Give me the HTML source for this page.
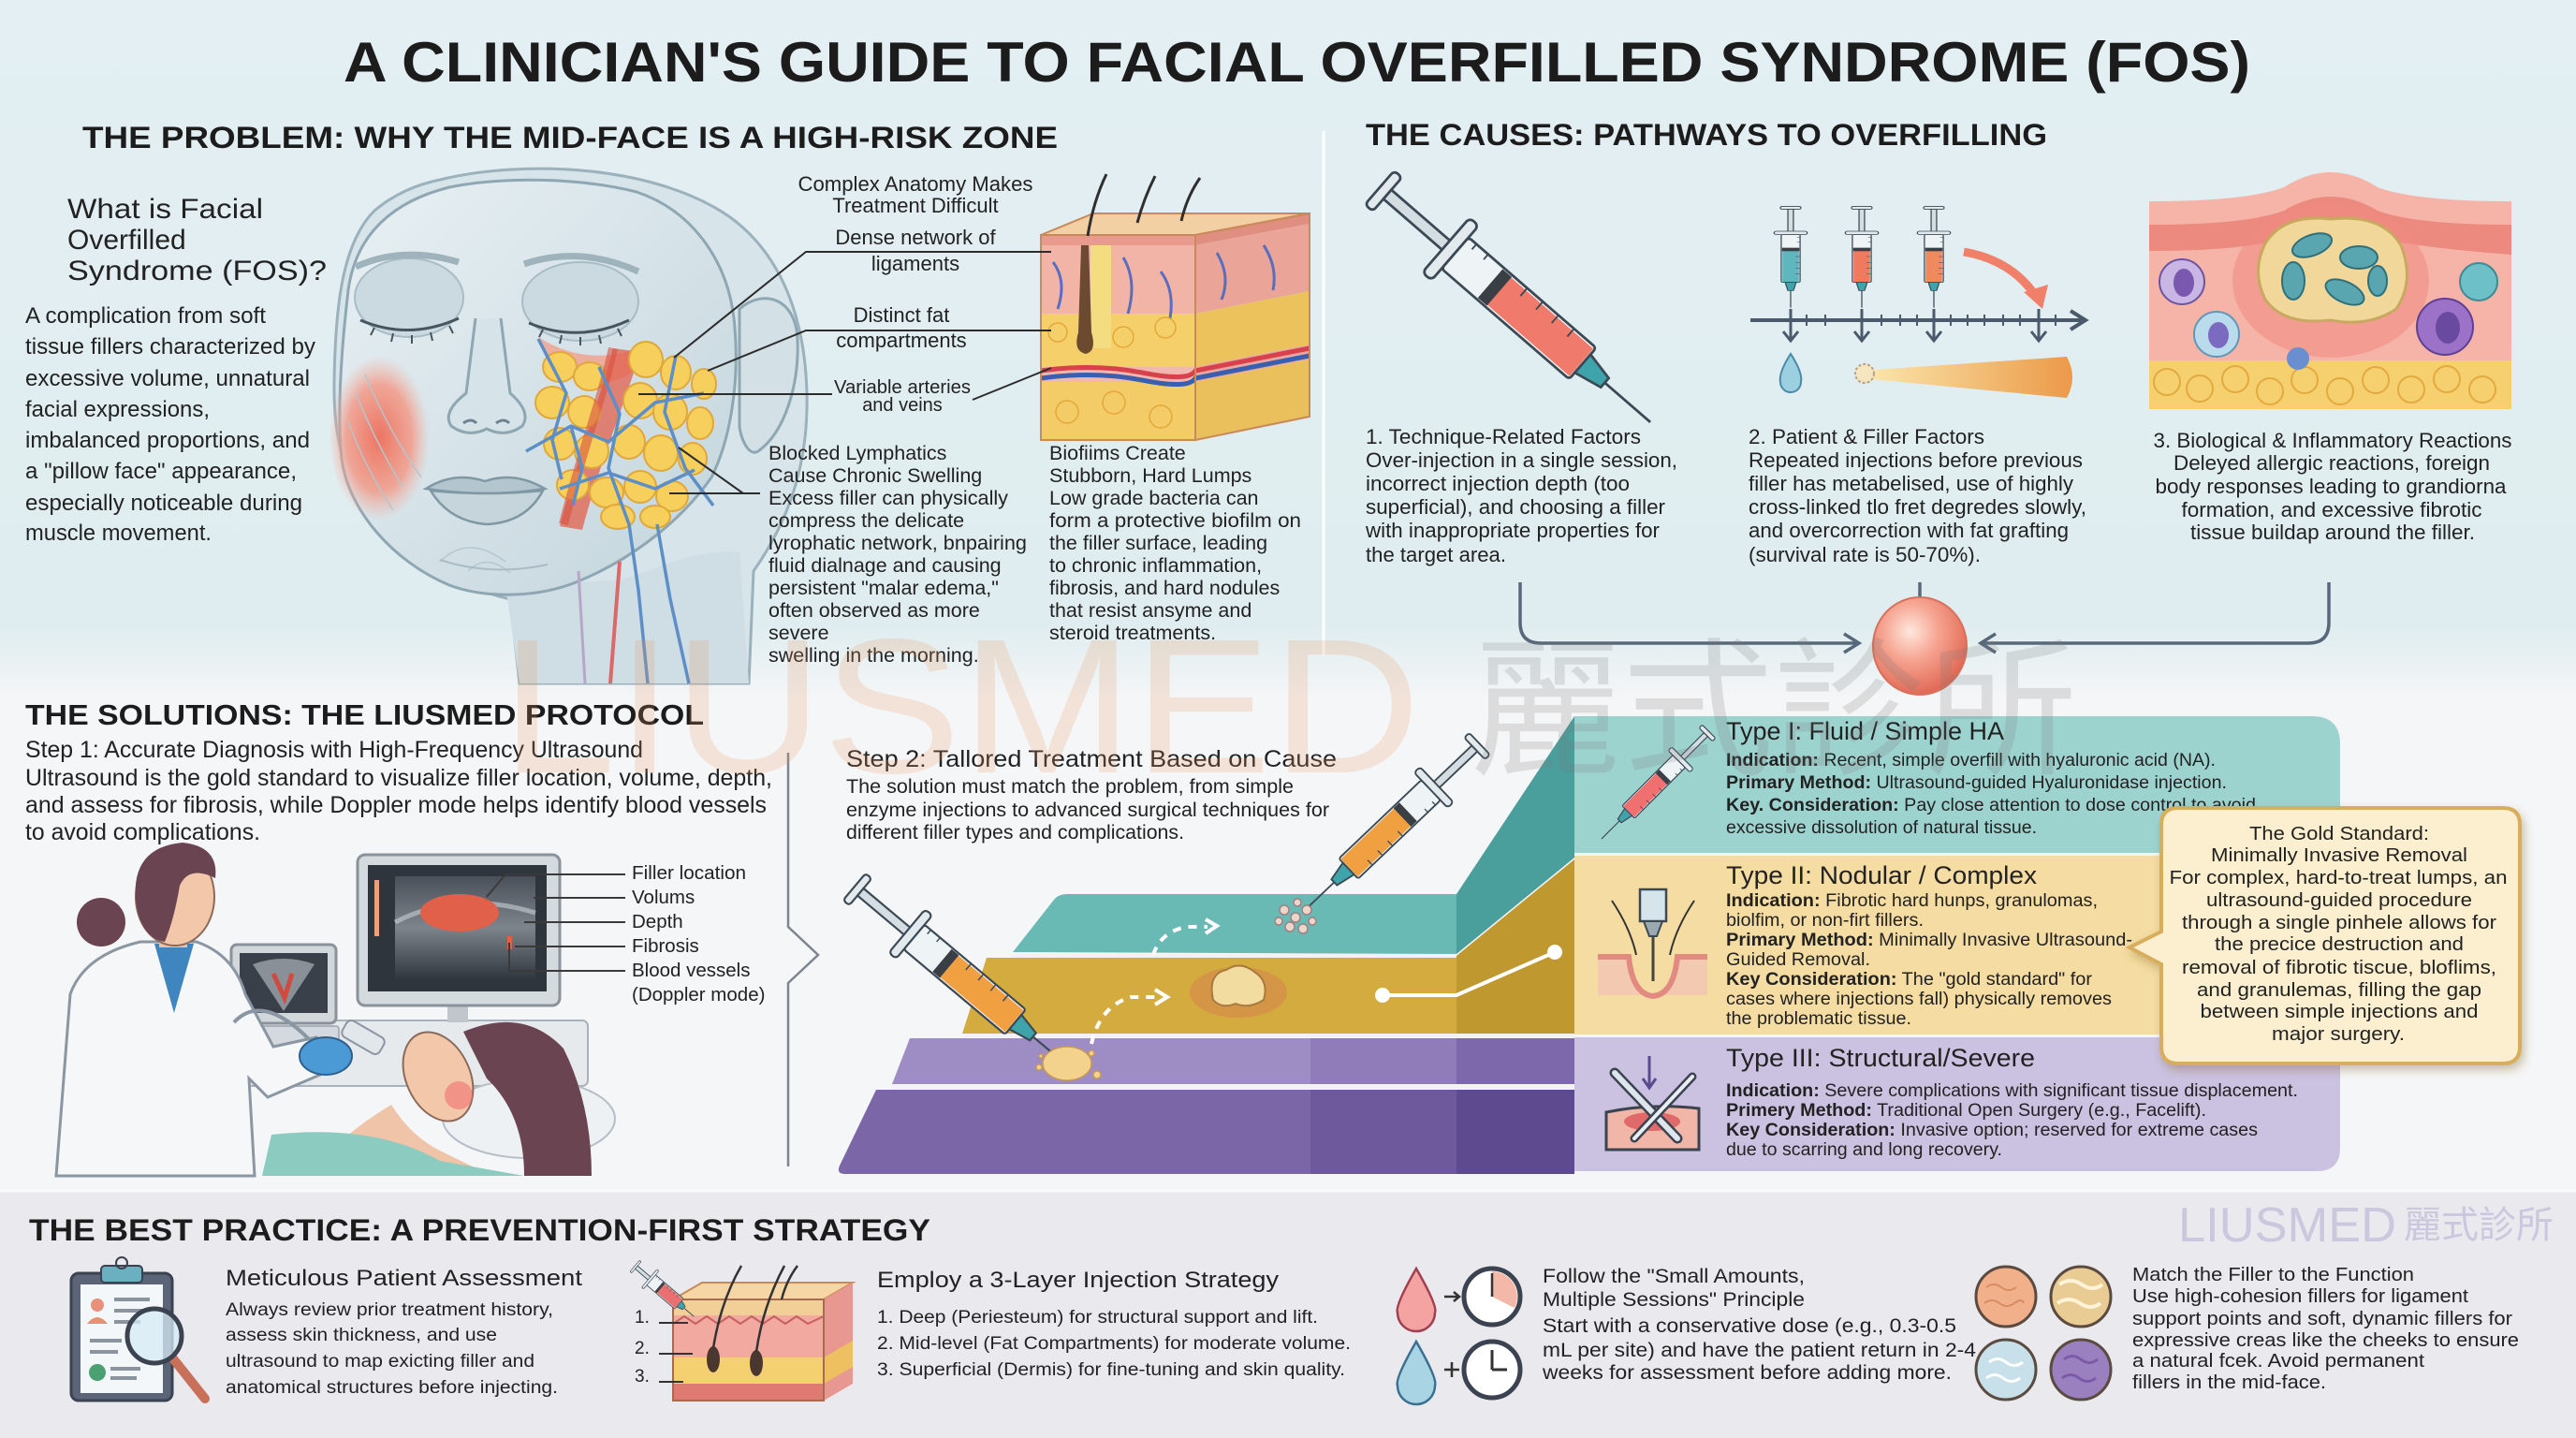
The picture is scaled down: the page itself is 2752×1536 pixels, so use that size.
<!DOCTYPE html>
<html><head><meta charset="utf-8">
<style>
html,body{margin:0;padding:0;background:#f5f6f7;}
svg{display:block;}
text{font-family:"Liberation Sans","Noto Sans CJK TC",sans-serif;fill:#222;}
.h{font-weight:bold;fill:#1c1c1c;}
</style></head><body>
<svg width="2752" height="1536" viewBox="0 0 2752 1536" xmlns="http://www.w3.org/2000/svg">
<defs>
<linearGradient id="gTop" x1="0" y1="0" x2="0" y2="1"><stop offset="0" stop-color="#e3eff2"/><stop offset="0.9" stop-color="#e0edf0"/><stop offset="1" stop-color="#f4f6f7"/></linearGradient>
<linearGradient id="gFace" x1="0" y1="0" x2="1" y2="1"><stop offset="0" stop-color="#e9f1f4"/><stop offset="1" stop-color="#c2d4dc"/></linearGradient>
<radialGradient id="gCheek"><stop offset="0" stop-color="#ee7462"/><stop offset="0.65" stop-color="#f29a88" stop-opacity=".85"/><stop offset="1" stop-color="#f4b0a0" stop-opacity="0"/></radialGradient>
<radialGradient id="gBall" cx="0.4" cy="0.35" r="0.65"><stop offset="0" stop-color="#fee8de"/><stop offset="0.45" stop-color="#f6a592"/><stop offset="1" stop-color="#e26a56"/></radialGradient>
<linearGradient id="gCone" x1="0" x2="1"><stop offset="0" stop-color="#fbe9b0"/><stop offset="1" stop-color="#eb9a48"/></linearGradient>
<linearGradient id="gScr" x1="0" y1="0" x2="0" y2="1"><stop offset="0" stop-color="#4a5059"/><stop offset="0.5" stop-color="#7d848c"/><stop offset="1" stop-color="#30363e"/></linearGradient>
<filter id="sh" x="-10%" y="-10%" width="125%" height="125%"><feDropShadow dx="3" dy="5" stdDeviation="5" flood-color="#7a5a20" flood-opacity=".35"/></filter>
<g id="syr">
<rect x="-6" y="-26" width="12" height="52" rx="5" fill="#e3eaee" stroke="#3b4954" stroke-width="3"/>
<rect x="6" y="-7" width="92" height="14" fill="#d3dde2" stroke="#3b4954" stroke-width="3"/>
<rect x="96" y="-42" width="14" height="84" rx="6" fill="#e3eaee" stroke="#3b4954" stroke-width="3"/>
<rect x="110" y="-24" width="196" height="48" rx="4" fill="#eef4f6" stroke="#3b4954" stroke-width="3"/>
<rect x="176" y="-21" width="128" height="42" fill="currentColor"/>
<rect x="164" y="-22" width="14" height="44" fill="#3a3f45"/>
<path d="M200,-24v12M224,-24v12M248,-24v12M272,-24v12M140,-24v8M122,-24v8" stroke="#3b4954" stroke-width="2"/>
<path d="M306,-14L340,-7V7L306,14Z" fill="#3fa3ab" stroke="#3b4954" stroke-width="3"/>
<path d="M340,0H410" stroke="#3b4954" stroke-width="3"/>
</g>
<clipPath id="c3"><path d="M2296,215 Q2400,215 2440,200 Q2490,168 2540,200 Q2580,215 2683,215 V437 H2296 Z"/></clipPath>
</defs>

<!-- BACKGROUNDS -->
<rect width="2752" height="1536" fill="#f5f6f7"/>
<rect x="0" y="0" width="2752" height="745" fill="url(#gTop)"/>
<rect x="0" y="1272" width="2752" height="264" fill="#e9e9ee"/>
<line x1="0" y1="1272" x2="2752" y2="1272" stroke="#fafafc" stroke-width="3"/>
<line x1="1414" y1="140" x2="1414" y2="700" stroke="#ffffff" stroke-width="3"/>

<!-- TITLE -->
<text class="h" x="367" y="87" font-size="60" textLength="2037" lengthAdjust="spacingAndGlyphs">A CLINICIAN'S GUIDE TO FACIAL OVERFILLED SYNDROME (FOS)</text>
<text class="h" x="88" y="158" font-size="32" textLength="1042" lengthAdjust="spacingAndGlyphs">THE PROBLEM: WHY THE MID-FACE IS A HIGH-RISK ZONE</text>
<text class="h" x="1459" y="155" font-size="32" textLength="728" lengthAdjust="spacingAndGlyphs">THE CAUSES: PATHWAYS TO OVERFILLING</text>

<!-- PROBLEM LEFT TEXT -->
<text x="72" y="233" font-size="30" textLength="209" lengthAdjust="spacingAndGlyphs">What is Facial</text>
<text x="72" y="266" font-size="30">Overfilled</text>
<text x="72" y="299" font-size="30" textLength="277" lengthAdjust="spacingAndGlyphs">Syndrome (FOS)?</text>
<g font-size="24">
<text x="27" y="345" textLength="257" lengthAdjust="spacingAndGlyphs">A complication from soft</text>
<text x="27" y="378" textLength="310" lengthAdjust="spacingAndGlyphs">tissue fillers characterized by</text>
<text x="27" y="412" textLength="304" lengthAdjust="spacingAndGlyphs">excessive volume, unnatural</text>
<text x="27" y="445" textLength="197" lengthAdjust="spacingAndGlyphs">facial expressions,</text>
<text x="27" y="478" textLength="304" lengthAdjust="spacingAndGlyphs">imbalanced proportions, and</text>
<text x="27" y="511" textLength="290" lengthAdjust="spacingAndGlyphs">a "pillow face" appearance,</text>
<text x="27" y="545" textLength="296" lengthAdjust="spacingAndGlyphs">especially noticeable during</text>
<text x="27" y="577" textLength="199" lengthAdjust="spacingAndGlyphs">muscle movement.</text>
</g>

<!-- FACE -->
<g>
<path d="M470,192 C560,170 700,176 780,232 C835,272 860,340 862,420 C864,500 840,560 805,610 L800,730 L555,730 L545,640 C500,630 440,600 400,560 C370,520 356,470 357,410 C358,330 365,260 400,225 C420,208 445,197 470,192 Z" fill="#d7e4e9" stroke="#9bb1bc" stroke-width="3"/>
<path d="M540,625 L555,730 L800,730 L790,590 C740,585 700,610 660,620 Z" fill="#cfdde4"/>
<path d="M480,200 C420,215 380,250 372,310 C365,370 360,440 365,490 C372,545 420,600 480,625 C520,640 575,638 615,622 C670,600 725,560 760,510 C780,470 790,410 785,350 C780,280 740,225 680,205 C620,190 540,188 480,200 Z" fill="url(#gFace)" stroke="#8ea7b3" stroke-width="3"/>
<path d="M790,330 C815,308 850,318 852,362 C854,412 838,462 810,482 C800,488 792,470 790,456 Z" fill="#d3e1e7" stroke="#8ea7b3" stroke-width="3"/>
<ellipse cx="405" cy="468" rx="54" ry="88" fill="url(#gCheek)"/>
<g stroke="#b4c6ce" stroke-width="1.5" fill="none">
<path d="M380,420 Q400,470 430,520 M390,400 Q415,460 450,510 M372,450 Q390,500 420,545"/>
<path d="M470,600 Q500,570 540,600 M500,610 Q520,590 545,612"/>
</g>
<ellipse cx="437" cy="318" rx="58" ry="42" fill="#cbdae1" stroke="#a8bcc5" stroke-width="2"/>
<ellipse cx="620" cy="322" rx="62" ry="42" fill="#cbdae1" stroke="#a8bcc5" stroke-width="2"/>
<path d="M380,285 Q430,262 490,280" stroke="#9fb3bd" stroke-width="7" fill="none"/>
<path d="M560,282 Q620,262 682,290" stroke="#9fb3bd" stroke-width="7" fill="none"/>
<path d="M575,360 Q630,395 692,368 Q682,412 630,408 Q588,398 575,360 Z" fill="#f0a08c" opacity=".8"/>
<path d="M385,342 Q437,364 490,340" stroke="#46555f" stroke-width="3" fill="none"/>
<path d="M565,345 Q618,367 672,342" stroke="#46555f" stroke-width="3" fill="none"/>
<path d="M400,350l-4,8M420,356l-2,9M440,358v9M460,355l2,9M480,348l4,8M580,352l-4,8M600,358l-2,9M620,360v9M640,358l2,9M660,351l4,8" stroke="#46555f" stroke-width="2"/>
<path d="M508,340 L498,420 Q472,440 482,455 Q500,468 520,458 Q540,468 558,455 Q568,440 545,420 L535,340" stroke="#8ea7b3" stroke-width="3" fill="#d6e3e8"/>
<path d="M495,452 q8,-6 14,0M530,452 q8,-6 14,0" stroke="#6d8490" stroke-width="3" fill="none"/>
<path d="M455,522 Q485,503 518,514 Q550,503 582,522 Q520,532 455,522 Z" fill="#b3c6cf" stroke="#7f98a4" stroke-width="2.5"/>
<path d="M460,524 Q520,530 580,524 Q562,558 520,560 Q480,557 460,524 Z" fill="#c6d5dc" stroke="#7f98a4" stroke-width="2.5"/>
<path d="M470,598 Q525,616 585,603" stroke="#a9bcc5" stroke-width="2" fill="none"/>
<path d="M655,372 C640,430 620,480 598,562 L622,566 C642,490 668,430 684,376 Z" fill="#e2604c" opacity=".75"/>
<g fill="#f6cf5c" stroke="#e0a83a" stroke-width="2">
<ellipse cx="598" cy="392" rx="18" ry="16"/><ellipse cx="630" cy="402" rx="17" ry="15"/><ellipse cx="690" cy="384" rx="18" ry="19"/><ellipse cx="722" cy="398" rx="16" ry="18"/><ellipse cx="752" cy="410" rx="13" ry="16"/>
<ellipse cx="590" cy="430" rx="18" ry="17"/><ellipse cx="624" cy="440" rx="17" ry="17"/><ellipse cx="684" cy="428" rx="18" ry="19"/><ellipse cx="716" cy="440" rx="18" ry="19"/><ellipse cx="748" cy="452" rx="14" ry="17"/>
<ellipse cx="598" cy="474" rx="17" ry="17"/><ellipse cx="632" cy="482" rx="18" ry="18"/><ellipse cx="672" cy="472" rx="17" ry="18"/><ellipse cx="706" cy="484" rx="18" ry="19"/><ellipse cx="740" cy="490" rx="15" ry="17"/>
<ellipse cx="612" cy="518" rx="17" ry="16"/><ellipse cx="648" cy="526" rx="18" ry="16"/><ellipse cx="684" cy="520" rx="17" ry="17"/><ellipse cx="718" cy="530" rx="17" ry="16"/>
<ellipse cx="660" cy="552" rx="18" ry="13"/><ellipse cx="700" cy="552" rx="16" ry="12"/>
</g>
<path d="M655,372 C642,430 622,480 602,560" stroke="#d9503d" stroke-width="10" fill="none" opacity=".6"/>
<g stroke="#5d8fc6" stroke-width="3.5" fill="none" stroke-linejoin="round">
<path d="M575,362 L605,420 L590,470 L600,512"/>
<path d="M562,482 L610,455 L650,472 L700,430 L752,420"/>
<path d="M598,522 L650,505 L700,522 L742,502"/>
<path d="M640,392 L662,442 L650,500 L672,560 L682,630 L692,730"/>
<path d="M722,380 L710,440 L732,500 L762,540"/>
<path d="M702,560 L716,640 L736,730"/>
<path d="M610,455 L622,500 L612,540"/>
</g>
<path d="M662,600 L652,730" stroke="#d86a6a" stroke-width="4" fill="none"/>
<path d="M618,610 L625,730" stroke="#b8a6c8" stroke-width="3" fill="none"/>
</g>

<!-- SKIN BLOCK (problem) -->
<g>
<polygon points="1112,251 1277,251 1399,228 1168,228" fill="#f3cfa4" stroke="#c98a5a" stroke-width="2"/>
<rect x="1112" y="251" width="165" height="11" fill="#e89a8c"/>
<rect x="1112" y="262" width="165" height="73" fill="#f3b4a8"/>
<rect x="1112" y="335" width="165" height="57" fill="#f5cf6a"/>
<rect x="1112" y="392" width="165" height="16" fill="#f1b8b0"/>
<rect x="1112" y="408" width="165" height="62" fill="#f3cc68"/>
<polygon points="1277,251 1399,228 1399,239 1277,262" fill="#df8e80"/>
<polygon points="1277,262 1399,239 1399,311 1277,335" fill="#eaa598"/>
<polygon points="1277,335 1399,311 1399,368 1277,392" fill="#ecc25c"/>
<polygon points="1277,392 1399,368 1399,384 1277,408" fill="#e7a8a0"/>
<polygon points="1277,408 1399,384 1399,445 1277,470" fill="#e9c05c"/>
<path d="M1112,396 Q1170,388 1220,398 T1277,396 L1399,372" stroke="#d8404c" stroke-width="5" fill="none"/>
<path d="M1112,404 Q1170,396 1220,406 T1277,404 L1399,380" stroke="#3a5fb0" stroke-width="5" fill="none"/>
<path d="M1125,280 Q1140,300 1130,330 M1200,275 Q1215,300 1205,335 M1240,290 Q1255,310 1250,340 M1300,270 Q1315,295 1305,320 M1350,262 Q1365,285 1360,310" stroke="#5a6ec0" stroke-width="3" fill="none"/>
<rect x="1165" y="262" width="22" height="110" fill="#f4dc80"/>
<path d="M1155,262 L1163,262 L1166,355 Q1172,375 1160,378 Q1146,375 1152,355 Z" fill="#6b4a30"/>
<g fill="none" stroke="#e4a83a" stroke-width="1.5"><circle cx="1130" cy="355" r="10"/><circle cx="1200" cy="360" r="11"/><circle cx="1245" cy="350" r="11"/><circle cx="1140" cy="440" r="12"/><circle cx="1190" cy="430" r="12"/><circle cx="1240" cy="445" r="12"/></g>
<rect x="1112" y="251" width="165" height="219" fill="none" stroke="#c98a5a" stroke-width="2"/>
<polygon points="1277,251 1399,228 1399,445 1277,470" fill="none" stroke="#c98a5a" stroke-width="2"/>
<path d="M1162,252 Q1168,215 1182,186 M1215,238 Q1222,212 1234,188 M1262,236 Q1268,210 1282,190" stroke="#2f2f2f" stroke-width="3" fill="none"/>
</g>

<!-- PROBLEM LABELS -->
<g font-size="22" text-anchor="middle">
<text x="978" y="204" textLength="251" lengthAdjust="spacingAndGlyphs">Complex Anatomy Makes</text>
<text x="978" y="227">Treatment Difficult</text>
<text x="978" y="261">Dense network of</text>
<text x="978" y="289">ligaments</text>
<text x="963" y="344">Distinct fat</text>
<text x="963" y="371">compartments</text>
</g>
<g font-size="20" text-anchor="middle">
<text x="964" y="420" textLength="146" lengthAdjust="spacingAndGlyphs">Variable arteries</text>
<text x="964" y="439">and veins</text>
</g>
<g stroke="#2c2c2c" stroke-width="2" fill="none">
<path d="M1123,269 H861 L720,382"/>
<path d="M1123,353 H861 L756,396"/>
<path d="M889,421 H682"/>
<path d="M1039,427 L1123,393"/>
<path d="M794,527 L725,478"/>
<path d="M812,527 H715"/>
</g>
<g font-size="21.5">
<text x="821" y="491">Blocked Lymphatics</text>
<text x="821" y="515">Cause Chronic Swelling</text>
<text x="821" y="539" textLength="256" lengthAdjust="spacingAndGlyphs">Excess filler can physically</text>
<text x="821" y="563">compress the delicate</text>
<text x="821" y="587" textLength="276" lengthAdjust="spacingAndGlyphs">lyrophatic network, bnpairing</text>
<text x="821" y="611">fluid dialnage and causing</text>
<text x="821" y="635">persistent "malar edema,"</text>
<text x="821" y="659">often observed as more</text>
<text x="821" y="683">severe</text>
<text x="821" y="707">swelling in the morning.</text>
<text x="1121" y="491">Biofiims Create</text>
<text x="1121" y="515">Stubborn, Hard Lumps</text>
<text x="1121" y="539">Low grade bacteria can</text>
<text x="1121" y="563" textLength="269" lengthAdjust="spacingAndGlyphs">form a protective biofilm on</text>
<text x="1121" y="587">the filler surface, leading</text>
<text x="1121" y="611">to chronic inflammation,</text>
<text x="1121" y="635">fibrosis, and hard nodules</text>
<text x="1121" y="659">that resist ansyme and</text>
<text x="1121" y="683">steroid treatments.</text>
</g>

<!-- CAUSES ILLUSTRATIONS -->
<use href="#syr" color="#f07a6c" transform="translate(1478,204) rotate(40.9) scale(0.92)"/>
<use href="#syr" color="#5fb6bf" transform="translate(1913,222) rotate(90) scale(0.26,0.42)"/>
<use href="#syr" color="#ef7a5e" transform="translate(1989,222) rotate(90) scale(0.26,0.42)"/>
<use href="#syr" color="#ef8a5e" transform="translate(2066,222) rotate(90) scale(0.26,0.42)"/>
<g stroke="#4a5a6c" stroke-width="4" fill="none">
<path d="M1870,342 H2224"/>
<path d="M2212,332 L2228,342 L2212,352"/>
<path d="M1913,330 V362 M1989,330 V362 M2066,330 V362 M2178,330 V362" stroke-width="3"/>
<path d="M1905,354 L1913,364 L1921,354 M1981,354 L1989,364 L1997,354 M2058,354 L2066,364 L2074,354 M2170,354 L2178,364 L2186,354" stroke-width="3"/>
<path d="M1930,336v12M1950,336v12M2010,336v12M2030,336v12M2048,336v12M2084,336v12M2102,336v12M2120,336v12M2140,336v12M2158,336v12M2196,336v12" stroke-width="2"/>
</g>
<path d="M2098,269 Q2150,278 2176,318" stroke="#f0806a" stroke-width="9" fill="none"/>
<path d="M2162,312 L2182,330 L2188,304 Z" fill="#f0806a"/>
<path d="M1913,378 Q1926,398 1924,408 A11,11 0 0 1 1902,408 Q1900,398 1913,378 Z" fill="#9ccfe0" stroke="#4a8aa8" stroke-width="2"/>
<path d="M1988,396 L2208,381 Q2220,403 2208,425 L1988,404 Z" fill="url(#gCone)"/>
<circle cx="1992" cy="399" r="10" fill="#f5e6c0" stroke="#bba080" stroke-width="2" stroke-dasharray="3 2"/>
<g clip-path="url(#c3)">
<rect x="2296" y="165" width="387" height="275" fill="#f6b4a8"/>
<path d="M2296,240 Q2400,240 2440,225 Q2490,195 2540,225 Q2580,240 2683,240 V272 Q2580,264 2540,254 Q2490,234 2440,254 Q2400,268 2296,268 Z" fill="#ec8a80"/>
<rect x="2296" y="385" width="387" height="55" fill="#f6d06e"/>
<g fill="none" stroke="#e2aa40" stroke-width="2"><circle cx="2315" cy="408" r="14"/><circle cx="2350" cy="415" r="14"/><circle cx="2388" cy="405" r="14"/><circle cx="2425" cy="418" r="14"/><circle cx="2462" cy="406" r="14"/><circle cx="2500" cy="418" r="14"/><circle cx="2538" cy="406" r="14"/><circle cx="2576" cy="416" r="14"/><circle cx="2614" cy="405" r="14"/><circle cx="2652" cy="416" r="14"/></g>
<ellipse cx="2490" cy="300" rx="105" ry="82" fill="#f08a80" opacity=".55"/>
<path d="M2420,260 Q2440,228 2490,234 Q2545,228 2565,262 Q2580,300 2560,330 Q2530,350 2490,342 Q2440,348 2420,320 Q2405,290 2420,260 Z" fill="#f1d89a" stroke="#c9a860" stroke-width="3"/>
<g fill="#5aa6b0" stroke="#2f6f7a" stroke-width="2">
<ellipse cx="2470" cy="262" rx="22" ry="11" transform="rotate(-20 2470 262)"/><ellipse cx="2520" cy="275" rx="20" ry="12"/><ellipse cx="2450" cy="300" rx="12" ry="20"/><ellipse cx="2505" cy="312" rx="22" ry="11" transform="rotate(25 2505 312)"/><ellipse cx="2540" cy="300" rx="10" ry="16"/></g>
<circle cx="2331" cy="301" r="24" fill="#c9b6e4" stroke="#6d54a0" stroke-width="2"/><ellipse cx="2333" cy="302" rx="11" ry="15" fill="#7a58b0"/>
<circle cx="2612" cy="349" r="30" fill="#9b72c8" stroke="#5e3f94" stroke-width="2"/><ellipse cx="2615" cy="350" rx="13" ry="17" fill="#6a4aa0"/>
<circle cx="2368" cy="357" r="24" fill="#b9dbec" stroke="#5f98b8" stroke-width="2"/><ellipse cx="2370" cy="358" rx="11" ry="14" fill="#7a6ac0"/>
<circle cx="2648" cy="301" r="20" fill="#6ec0c8" stroke="#3f8a94" stroke-width="2"/>
<circle cx="2455" cy="383" r="12" fill="#6a8fd0"/>
</g>
<g font-size="22">
<text x="1459" y="474" textLength="294" lengthAdjust="spacingAndGlyphs">1. Technique-Related Factors</text>
<text x="1459" y="499" textLength="333" lengthAdjust="spacingAndGlyphs">Over-injection in a single session,</text>
<text x="1459" y="524" textLength="282" lengthAdjust="spacingAndGlyphs">incorrect injection depth (too</text>
<text x="1459" y="549" textLength="320" lengthAdjust="spacingAndGlyphs">superficial), and choosing a filler</text>
<text x="1459" y="574" textLength="314" lengthAdjust="spacingAndGlyphs">with inappropriate properties for</text>
<text x="1459" y="600" textLength="150" lengthAdjust="spacingAndGlyphs">the target area.</text>
<text x="1868" y="474" textLength="252" lengthAdjust="spacingAndGlyphs">2. Patient &amp; Filler Factors</text>
<text x="1868" y="499" textLength="357" lengthAdjust="spacingAndGlyphs">Repeated injections before previous</text>
<text x="1868" y="524" textLength="347" lengthAdjust="spacingAndGlyphs">filler has metabelised, use of highly</text>
<text x="1868" y="549" textLength="361" lengthAdjust="spacingAndGlyphs">cross-linked tlo fret degredes slowly,</text>
<text x="1868" y="574" textLength="342" lengthAdjust="spacingAndGlyphs">and overcorrection with fat grafting</text>
<text x="1868" y="600" textLength="248" lengthAdjust="spacingAndGlyphs">(survival rate is 50-70%).</text>
</g>
<g font-size="22" text-anchor="middle">
<text x="2492" y="478" textLength="383" lengthAdjust="spacingAndGlyphs">3. Biological &amp; Inflammatory Reactions</text>
<text x="2491" y="502" textLength="338" lengthAdjust="spacingAndGlyphs">Deleyed allergic reactions, foreign</text>
<text x="2490" y="527" textLength="375" lengthAdjust="spacingAndGlyphs">body responses leading to grandiorna</text>
<text x="2491" y="552" textLength="321" lengthAdjust="spacingAndGlyphs">formation, and excessive fibrotic</text>
<text x="2492" y="576" textLength="304" lengthAdjust="spacingAndGlyphs">tissue buildap around the filler.</text>
</g>
<g stroke="#56687a" stroke-width="3.5" fill="none">
<path d="M1624,622 V665 Q1624,687 1646,687 H1984"/>
<path d="M1970,677 L1986,687 L1970,697"/>
<path d="M2488,622 V665 Q2488,687 2466,687 H2118"/>
<path d="M2132,677 L2116,687 L2132,697"/>
<path d="M2051,622 V642"/>
</g>
<ellipse cx="2051" cy="690" rx="50" ry="52" fill="url(#gBall)" stroke="#d8705c" stroke-width="2"/>

<!-- SOLUTIONS -->
<text class="h" x="27" y="774" font-size="31" textLength="725" lengthAdjust="spacingAndGlyphs">THE SOLUTIONS: THE LIUSMED PROTOCOL</text>
<g font-size="25">
<text x="27" y="809" textLength="660" lengthAdjust="spacingAndGlyphs">Step 1: Accurate Diagnosis with High-Frequency Ultrasound</text>
<text x="27" y="839" textLength="798" lengthAdjust="spacingAndGlyphs">Ultrasound is the gold standard to visualize filler location, volume, depth,</text>
<text x="27" y="868" textLength="792" lengthAdjust="spacingAndGlyphs">and assess for fibrosis, while Doppler mode helps identify blood vessels</text>
<text x="27" y="897" textLength="251" lengthAdjust="spacingAndGlyphs">to avoid complications.</text>
</g>
<path d="M842,804 V990 L874,1020 L842,1050 V1246" stroke="#7c8590" stroke-width="2.5" fill="none"/>

<!-- doctor scene -->
<g>
<rect x="213" y="1090" width="415" height="70" rx="6" fill="#e6eaed" stroke="#aab3bb" stroke-width="2"/>
<rect x="232" y="1096" width="130" height="40" rx="3" fill="#d3d9de" stroke="#9aa4ad" stroke-width="1.5"/>
<rect x="247" y="1009" width="112" height="84" rx="6" fill="#d2d7dc" stroke="#8a939b" stroke-width="3"/>
<rect x="256" y="1018" width="94" height="64" fill="#3a4049"/>
<path d="M270,1030 L303,1080 L336,1030 Q303,1018 270,1030 Z" fill="#8a9098"/>
<path d="M292,1040 L304,1066 L312,1040" stroke="#d04a40" stroke-width="5" fill="none"/>
<rect x="478" y="1072" width="22" height="20" fill="#c0c6cc"/>
<rect x="382" y="913" width="216" height="161" rx="8" fill="#d5dadf" stroke="#8a939b" stroke-width="3"/>
<rect x="393" y="924" width="191" height="135" fill="#2f353d"/>
<rect x="422" y="936" width="150" height="110" fill="url(#gScr)"/>
<path d="M422,985 Q490,950 572,975" stroke="#c8ced4" stroke-width="5" fill="none" opacity=".6"/>
<ellipse cx="491" cy="975" rx="42" ry="20" fill="#e0604a"/>
<rect x="400" y="940" width="5" height="60" fill="#e8a080"/>
<rect x="542" y="1000" width="5" height="14" fill="#e0604a"/>
<g stroke="#3a3a3a" stroke-width="2" fill="none">
<path d="M520,958 L540,934 H668"/><path d="M570,959 H668"/><path d="M560,985 H668"/><path d="M550,1011 H668"/><path d="M544,1007 V1037 H668"/>
</g>
<path d="M60,1256 L75,1062 Q90,1020 150,1006 L210,1006 Q250,1020 262,1062 L292,1118 L338,1108 L356,1142 L286,1172 L266,1152 L272,1256 Z" fill="#f5f7f9" stroke="#8a96a2" stroke-width="3"/>
<path d="M165,1008 L186,1082 L207,1008 Z" fill="#3f86c0"/>
<rect x="170" y="988" width="30" height="24" fill="#efc0a2"/>
<ellipse cx="187" cy="958" rx="42" ry="52" fill="#f3c8aa" stroke="#8a6a5a" stroke-width="2"/>
<circle cx="108" cy="985" r="26" fill="#6b4452"/>
<path d="M145,962 Q140,905 195,900 Q234,904 230,938 Q202,924 192,946 Q186,982 176,1006 Q150,1002 145,962 Z" fill="#6b4452"/>
<path d="M330,1110 Q280,1060 250,1092" stroke="#8a96a2" stroke-width="4" fill="none"/>
<rect x="365" y="1098" width="46" height="20" rx="6" fill="#e2e7eb" stroke="#8a96a2" stroke-width="2" transform="rotate(30 388 1108)"/>
<ellipse cx="348" cy="1128" rx="28" ry="20" fill="#4b9ad6" stroke="#2f5f8a" stroke-width="2"/>
<ellipse cx="565" cy="1195" rx="92" ry="42" fill="#eef1f4" stroke="#b5bec6" stroke-width="2"/>
<path d="M495,1102 Q560,1075 602,1120 Q632,1180 632,1256 L560,1256 Q560,1190 520,1152 Z" fill="#6b4452"/>
<path d="M418,1180 Q440,1215 472,1230 L525,1256 L330,1256 Q360,1215 418,1180 Z" fill="#f0c4a8"/>
<ellipse cx="468" cy="1150" rx="34" ry="50" transform="rotate(-25 468 1150)" fill="#f3c8aa" stroke="#8a6a5a" stroke-width="2"/>
<circle cx="490" cy="1170" r="15" fill="#f07070" opacity=".6"/>
<path d="M290,1212 Q400,1200 470,1240 L560,1256 L280,1256 Z" fill="#8ccbbf"/>
</g>
<g font-size="20.5">
<text x="675" y="939" textLength="122" lengthAdjust="spacingAndGlyphs">Filler location</text>
<text x="675" y="965">Volums</text>
<text x="675" y="991">Depth</text>
<text x="675" y="1017">Fibrosis</text>
<text x="675" y="1043">Blood vessels</text>
<text x="675" y="1069">(Doppler mode)</text>
</g>

<!-- STEP 2 -->
<text x="904" y="819" font-size="25" textLength="524" lengthAdjust="spacingAndGlyphs">Step 2: Tallored Treatment Based on Cause</text>
<g font-size="21">
<text x="904" y="847" textLength="478" lengthAdjust="spacingAndGlyphs">The solution must match the problem, from simple</text>
<text x="904" y="872" textLength="516" lengthAdjust="spacingAndGlyphs">enzyme injections to advanced surgical techniques for</text>
<text x="904" y="896" textLength="361" lengthAdjust="spacingAndGlyphs">different filler types and complications.</text>
</g>

<!-- staircase -->
<g>
<path d="M1082,1017 L1126,961 Q1131,955 1140,955 L1556,955 L1556,1019 Z" fill="#69b9b5"/>
<polygon points="1556,955 1682,765 1682,916 1556,1019" fill="#4a9e9c"/>
<path d="M1028,1104 L1054,1023 L1556,1023 L1556,1104 Z" fill="#d4ab3e"/>
<polygon points="1556,1021 1682,918 1682,1106 1556,1104" fill="#c09830"/>
<path d="M953,1158 L972,1109 L1400,1109 L1400,1158 Z" fill="#9e8cc4"/>
<rect x="1400" y="1109" width="156" height="49" fill="#8f7cb9"/>
<rect x="1556" y="1109" width="126" height="49" fill="#7c68aa"/>
<path d="M903,1254 Q893,1254 897,1245 L936,1164 L1400,1164 L1400,1254 Z" fill="#7b66a8"/>
<rect x="1400" y="1164" width="156" height="90" fill="#6d599c"/>
<rect x="1556" y="1164" width="126" height="90" fill="#5e4a8e"/>
<g stroke="#f3f1f7" stroke-width="4">
<line x1="1080" y1="1021" x2="1556" y2="1021"/><line x1="1028" y1="1106" x2="1682" y2="1106"/><line x1="952" y1="1161" x2="1682" y2="1161"/>
</g>
</g>
<use href="#syr" color="#f0a040" transform="translate(916,950) rotate(40) scale(0.72)"/>
<use href="#syr" color="#f0a040" transform="translate(1578,797) rotate(136.4) scale(0.62)"/>
<g fill="#f3d28e" stroke="#c99a50" stroke-width="1.5">
<ellipse cx="1140" cy="1136" rx="26" ry="18"/><circle cx="1110" cy="1140" r="3"/><circle cx="1172" cy="1148" r="4"/><circle cx="1166" cy="1125" r="3"/><circle cx="1112" cy="1128" r="2"/>
</g>
<g fill="none" stroke="#ffffff" stroke-width="4">
<path d="M1166,1115 Q1175,1075 1208,1065 H1240" stroke-dasharray="9 8"/>
<path d="M1234,1057 L1247,1065 L1234,1073"/>
<path d="M1232,1020 Q1240,995 1268,990 H1290" stroke-dasharray="9 8"/>
<path d="M1288,982 L1300,989 L1288,997"/>
</g>
<ellipse cx="1323" cy="1060" rx="52" ry="27" fill="#d87a50" opacity=".45"/>
<path d="M1296,1068 Q1290,1040 1310,1036 Q1325,1026 1340,1038 Q1356,1048 1350,1068 Q1335,1078 1320,1072 Q1305,1078 1296,1068 Z" fill="#f3dca0" stroke="#a87a40" stroke-width="2"/>
<g fill="#ecd6cc" stroke="#a08080" stroke-width="1.5"><circle cx="1372" cy="972" r="5"/><circle cx="1384" cy="980" r="5"/><circle cx="1396" cy="972" r="5"/><circle cx="1378" cy="990" r="5"/><circle cx="1392" cy="992" r="5"/><circle cx="1366" cy="984" r="4"/><circle cx="1402" cy="984" r="4"/><circle cx="1386" cy="964" r="4"/></g>
<path d="M1477,1063 H1556 L1661,1017" stroke="#ffffff" stroke-width="4" fill="none"/>
<circle cx="1477" cy="1063" r="8" fill="#fff"/><circle cx="1661" cy="1017" r="8" fill="#fff"/>

<!-- TYPE PANEL -->
<path d="M1682,765 H2470 Q2500,765 2500,795 V911 H1682 Z" fill="#9dd3cf"/>
<rect x="1682" y="914" width="818" height="191" fill="#f4dca2"/>
<path d="M1682,1108 H2500 V1226 Q2500,1251 2475,1251 H1682 Z" fill="#cbc1e1"/>
<use href="#syr" color="#f07070" transform="translate(1824,783) rotate(135) scale(0.39)"/>
<g>
<path d="M1707,1022 H1740 Q1744,1062 1766,1064 Q1788,1062 1792,1022 H1824 V1063 H1707 Z" fill="#f3c9b2"/>
<path d="M1707,1022 H1740 Q1744,1062 1766,1064 Q1788,1062 1792,1022 H1824" stroke="#e08a80" stroke-width="6" fill="none"/>
<path d="M1722,962 Q1742,992 1748,1020 M1810,962 Q1790,992 1784,1020" stroke="#333" stroke-width="2" fill="none"/>
<rect x="1752" y="950" width="28" height="34" fill="#d6e4ec" stroke="#3b4954" stroke-width="2.5"/>
<path d="M1756,984 H1776 L1770,1000 H1762 Z" fill="#9aa8b0" stroke="#3b4954" stroke-width="2"/>
<path d="M1766,1000 V1048" stroke="#444" stroke-width="3"/>
</g>
<g>
<path d="M1716,1188 Q1765,1178 1815,1184 V1228 H1716 Z" fill="#f2b6a8" stroke="#3b4250" stroke-width="3"/>
<ellipse cx="1765" cy="1198" rx="30" ry="10" fill="#e06a6a"/>
<path d="M1725,1146 L1792,1216" stroke="#3b4250" stroke-width="11" stroke-linecap="round"/>
<path d="M1725,1146 L1792,1216" stroke="#dce6ec" stroke-width="6" stroke-linecap="round"/>
<path d="M1808,1150 L1746,1216" stroke="#3b4250" stroke-width="9" stroke-linecap="round"/>
<path d="M1808,1150 L1746,1216" stroke="#e8eef2" stroke-width="4" stroke-linecap="round"/>
<path d="M1762,1128 V1160 M1755,1152 L1762,1162 L1769,1152" stroke="#5a4a90" stroke-width="3" fill="none"/>
</g>
<g font-size="19">
<text x="1844" y="790" font-size="27" textLength="297" lengthAdjust="spacingAndGlyphs">Type I: Fluid / Simple HA</text>
<text x="1844" y="818" textLength="523" lengthAdjust="spacingAndGlyphs"><tspan font-weight="bold">Indication:</tspan> Recent, simple overfill with hyaluronic acid (NA).</text>
<text x="1844" y="842" textLength="535" lengthAdjust="spacingAndGlyphs"><tspan font-weight="bold">Primary Method:</tspan> Ultrasound-guided Hyaluronidase injection.</text>
<text x="1844" y="866" textLength="566" lengthAdjust="spacingAndGlyphs"><tspan font-weight="bold">Key. Consideration:</tspan> Pay close attention to dose control to avoid</text>
<text x="1844" y="890" textLength="332" lengthAdjust="spacingAndGlyphs">excessive dissolution of natural tissue.</text>
<text x="1844" y="944" font-size="27" textLength="332" lengthAdjust="spacingAndGlyphs">Type II: Nodular / Complex</text>
<text x="1844" y="968" textLength="397" lengthAdjust="spacingAndGlyphs"><tspan font-weight="bold">Indication:</tspan> Fibrotic hard hunps, granulomas,</text>
<text x="1844" y="989" textLength="211" lengthAdjust="spacingAndGlyphs">biolfim, or non-firt fillers.</text>
<text x="1844" y="1010" textLength="434" lengthAdjust="spacingAndGlyphs"><tspan font-weight="bold">Primary Method:</tspan> Minimally Invasive Ultrasound-</text>
<text x="1844" y="1031" textLength="154" lengthAdjust="spacingAndGlyphs">Guided Removal.</text>
<text x="1844" y="1052" textLength="391" lengthAdjust="spacingAndGlyphs"><tspan font-weight="bold">Key Consideration:</tspan> The "gold standard" for</text>
<text x="1844" y="1073" textLength="412" lengthAdjust="spacingAndGlyphs">cases where injections fall) physically removes</text>
<text x="1844" y="1094" textLength="198" lengthAdjust="spacingAndGlyphs">the problematic tissue.</text>
<text x="1844" y="1139" font-size="27" textLength="330" lengthAdjust="spacingAndGlyphs">Type III: Structural/Severe</text>
<text x="1844" y="1171" textLength="611" lengthAdjust="spacingAndGlyphs"><tspan font-weight="bold">Indication:</tspan> Severe complications with significant tissue displacement.</text>
<text x="1844" y="1192" textLength="513" lengthAdjust="spacingAndGlyphs"><tspan font-weight="bold">Primery Method:</tspan> Traditional Open Surgery (e.g., Facelift).</text>
<text x="1844" y="1213" textLength="568" lengthAdjust="spacingAndGlyphs"><tspan font-weight="bold">Key Consideration:</tspan> Invasive option; reserved for extreme cases</text>
<text x="1844" y="1234" textLength="295" lengthAdjust="spacingAndGlyphs">due to scarring and long recovery.</text>
</g>
<path d="M2327,863 H2674 Q2692,863 2692,881 V1118 Q2692,1136 2674,1136 H2327 Q2309,1136 2309,1118 V1030 L2275,1012 L2309,995 V881 Q2309,863 2327,863 Z" fill="#fcefcf" stroke="#d6ae5c" stroke-width="4" filter="url(#sh)"/>
<g font-size="20" text-anchor="middle">
<text x="2499" y="897" textLength="192" lengthAdjust="spacingAndGlyphs">The Gold Standard:</text>
<text x="2499" y="920" textLength="274" lengthAdjust="spacingAndGlyphs">Minimally Invasive Removal</text>
<text x="2498" y="944" textLength="361" lengthAdjust="spacingAndGlyphs">For complex, hard-to-treat lumps, an</text>
<text x="2499" y="968" textLength="284" lengthAdjust="spacingAndGlyphs">ultrasound-guided procedure</text>
<text x="2499" y="992" textLength="336" lengthAdjust="spacingAndGlyphs">through a single pinhele allows for</text>
<text x="2499" y="1015" textLength="266" lengthAdjust="spacingAndGlyphs">the precice destruction and</text>
<text x="2499" y="1040" textLength="336" lengthAdjust="spacingAndGlyphs">removal of fibrotic tiscue, bloflims,</text>
<text x="2499" y="1064" textLength="304" lengthAdjust="spacingAndGlyphs">and granulemas, filling the gap</text>
<text x="2499" y="1087" textLength="297" lengthAdjust="spacingAndGlyphs">between simple injections and</text>
<text x="2498" y="1111" textLength="142" lengthAdjust="spacingAndGlyphs">major surgery.</text>
</g>

<!-- BEST PRACTICE -->
<text class="h" x="31" y="1325" font-size="32" textLength="963" lengthAdjust="spacingAndGlyphs">THE BEST PRACTICE: A PREVENTION-FIRST STRATEGY</text>
<g>
<rect x="76" y="1360" width="108" height="136" rx="8" fill="#5c6478" stroke="#3b4250" stroke-width="3"/>
<rect x="86" y="1372" width="88" height="116" fill="#f4f7fa"/>
<rect x="108" y="1352" width="44" height="18" rx="4" fill="#6ab0c0" stroke="#3b4250" stroke-width="2"/>
<circle cx="130" cy="1349" r="6" fill="none" stroke="#3b4250" stroke-width="2"/>
<circle cx="104" cy="1394" r="7" fill="#e8907a"/>
<path d="M93,1414 Q104,1400 115,1414 Z" fill="#e8907a"/>
<path d="M122,1388 H160 M122,1400 H160 M122,1412 H150 M96,1432 H130 M96,1444 H126" stroke="#8a949e" stroke-width="4"/>
<circle cx="104" cy="1466" r="9" fill="#4aa070"/>
<path d="M118,1462 H150 M118,1472 H146" stroke="#8a949e" stroke-width="4"/>
<path d="M184,1450 L219,1494" stroke="#c8705a" stroke-width="10" stroke-linecap="round"/>
<circle cx="165" cy="1427" r="29" fill="#d6ebf4" fill-opacity=".75" stroke="#3b4250" stroke-width="5"/>
</g>
<text x="241" y="1373" font-size="24" textLength="381" lengthAdjust="spacingAndGlyphs">Meticulous Patient Assessment</text>
<g font-size="19">
<text x="241" y="1405" textLength="350" lengthAdjust="spacingAndGlyphs">Always review prior treatment history,</text>
<text x="241" y="1432" textLength="290" lengthAdjust="spacingAndGlyphs">assess skin thickness, and use</text>
<text x="241" y="1460" textLength="330" lengthAdjust="spacingAndGlyphs">ultrasound to map exicting filler and</text>
<text x="241" y="1488" textLength="355" lengthAdjust="spacingAndGlyphs">anatomical structures before injecting.</text>
</g>
<g>
<polygon points="719,1388 880,1388 911,1370 750,1370" fill="#f5d6a4" stroke="#c98a5a" stroke-width="2"/>
<rect x="719" y="1388" width="161" height="17" fill="#f3cf98"/>
<rect x="719" y="1405" width="161" height="45" fill="#f2aaa0"/>
<path d="M719,1414 l12,-8 l12,8 l12,-8 l12,8 l12,-8 l12,8 l12,-8 l12,8 l12,-8 l12,8 l12,-8 l12,8 l17,-8" stroke="#c86060" stroke-width="2" fill="none"/>
<rect x="719" y="1450" width="161" height="28" fill="#f4d070"/>
<rect x="719" y="1478" width="161" height="18" fill="#de7a72"/>
<polygon points="880,1388 911,1370 911,1478 880,1496" fill="#e89890"/>
<polygon points="880,1450 911,1432 911,1460 880,1478" fill="#eec060"/>
<rect x="719" y="1388" width="161" height="108" fill="none" stroke="#a86a50" stroke-width="2"/>
<ellipse cx="762" cy="1452" rx="7" ry="14" fill="#4a3830"/>
<ellipse cx="808" cy="1456" rx="7" ry="14" fill="#4a3830"/>
<path d="M762,1440 Q770,1390 792,1352 M808,1444 Q815,1395 838,1352 M835,1388 Q840,1368 852,1352" stroke="#333" stroke-width="2.5" fill="none"/>
<path d="M704,1413 H735 M704,1446 H740 M704,1476 H730" stroke="#333" stroke-width="2"/>
</g>
<use href="#syr" color="#e87070" transform="translate(679,1353) rotate(40.5) scale(0.2,0.3)"/>
<g font-size="19"><text x="678" y="1413">1.</text><text x="678" y="1446">2.</text><text x="678" y="1476">3.</text></g>
<text x="937" y="1375" font-size="24" textLength="429" lengthAdjust="spacingAndGlyphs">Employ a 3-Layer Injection Strategy</text>
<g font-size="19">
<text x="937" y="1413" textLength="471" lengthAdjust="spacingAndGlyphs">1. Deep (Periesteum) for structural support and lift.</text>
<text x="937" y="1441" textLength="506" lengthAdjust="spacingAndGlyphs">2. Mid-level (Fat Compartments) for moderate volume.</text>
<text x="937" y="1469" textLength="500" lengthAdjust="spacingAndGlyphs">3. Superficial (Dermis) for fine-tuning and skin quality.</text>
</g>
<g>
<path d="M1513,1355 Q1536,1395 1533,1402 A20,20 0 0 1 1493,1402 Q1490,1395 1513,1355 Z" fill="#f4a2a2" stroke="#a04050" stroke-width="2.5"/>
<path d="M1513,1433 Q1536,1473 1533,1480 A20,20 0 0 1 1493,1480 Q1490,1473 1513,1433 Z" fill="#a8d4e4" stroke="#3b7090" stroke-width="2.5"/>
<path d="M1543,1385 H1558 M1553,1380 L1559,1385 L1553,1390" stroke="#333" stroke-width="2.5" fill="none"/>
<path d="M1543,1463 H1559 M1551,1455 V1471" stroke="#333" stroke-width="2.5"/>
<circle cx="1594" cy="1385" r="30" fill="#fff" stroke="#3b4250" stroke-width="5"/>
<path d="M1594,1385 V1358 A27,27 0 0 1 1618,1397 Z" fill="#f4b8a8"/>
<path d="M1594,1385 V1360" stroke="#333" stroke-width="2.5"/>
<circle cx="1594" cy="1463" r="30" fill="#fff" stroke="#3b4250" stroke-width="5"/>
<path d="M1594,1463 V1442 M1594,1463 H1610" stroke="#333" stroke-width="3"/>
</g>
<g font-size="21">
<text x="1648" y="1370" textLength="280" lengthAdjust="spacingAndGlyphs">Follow the "Small Amounts,</text>
<text x="1648" y="1395" textLength="280" lengthAdjust="spacingAndGlyphs">Multiple Sessions" Principle</text>
<text x="1648" y="1423" textLength="442" lengthAdjust="spacingAndGlyphs">Start with a conservative dose (e.g., 0.3-0.5</text>
<text x="1648" y="1449" textLength="463" lengthAdjust="spacingAndGlyphs">mL per site) and have the patient return in 2-4</text>
<text x="1648" y="1473" textLength="437" lengthAdjust="spacingAndGlyphs">weeks for assessment before adding more.</text>
</g>
<g stroke="#5a4a40" stroke-width="3">
<circle cx="2143" cy="1385" r="32" fill="#f2b08a"/>
<circle cx="2223" cy="1385" r="32" fill="#e9cc94"/>
<circle cx="2143" cy="1463" r="32" fill="#c8e0ea"/>
<circle cx="2223" cy="1463" r="32" fill="#9b80c0"/>
</g>
<g fill="none" stroke-width="2">
<path d="M2122,1375 q8,-6 16,0 t16,0 M2120,1392 q8,-6 16,0 t16,0 t10,0" stroke="#d88a60"/>
<path d="M2200,1372 q12,-8 24,0 t22,0 M2198,1392 q12,-8 24,0 t22,0" stroke="#fff4d8" stroke-width="4"/>
<path d="M2125,1455 q9,-7 18,0 t18,0 M2122,1472 q9,-7 18,0 t18,0" stroke="#ffffff" stroke-width="3"/>
<path d="M2205,1452 q9,-7 18,0 t18,0 M2203,1472 q9,-7 18,0 t18,0" stroke="#7a5aa8" stroke-width="3"/>
</g>
<g font-size="20">
<text x="2278" y="1368" textLength="301" lengthAdjust="spacingAndGlyphs">Match the Filler to the Function</text>
<text x="2278" y="1391" textLength="359" lengthAdjust="spacingAndGlyphs">Use high-cohesion fillers for ligament</text>
<text x="2278" y="1415" textLength="406" lengthAdjust="spacingAndGlyphs">support points and soft, dynamic fillers for</text>
<text x="2278" y="1438" textLength="413" lengthAdjust="spacingAndGlyphs">expressive creas like the cheeks to ensure</text>
<text x="2278" y="1460" textLength="312" lengthAdjust="spacingAndGlyphs">a natural fcek. Avoid permanent</text>
<text x="2278" y="1483" textLength="207" lengthAdjust="spacingAndGlyphs">fillers in the mid-face.</text>
</g>
<text x="2327" y="1326" font-size="52" textLength="233" lengthAdjust="spacingAndGlyphs" style="fill:#cac7de">LIUSMED</text>
<text x="2568" y="1322" font-size="40" textLength="160" lengthAdjust="spacingAndGlyphs" style="fill:#cac7de;font-family:'Liberation Sans','Noto Sans CJK TC',sans-serif">麗式診所</text>

<!-- WATERMARK -->
<text x="535" y="825" font-size="205" textLength="983" lengthAdjust="spacingAndGlyphs" style="fill:#e8955e;opacity:.2">LIUSMED</text>
<text x="1571" y="815" font-size="160" textLength="648" lengthAdjust="spacingAndGlyphs" style="fill:#7a7a7a;opacity:.2;font-family:'Liberation Sans','Noto Sans CJK TC',sans-serif">麗式診所</text>
</svg>
</body></html>
